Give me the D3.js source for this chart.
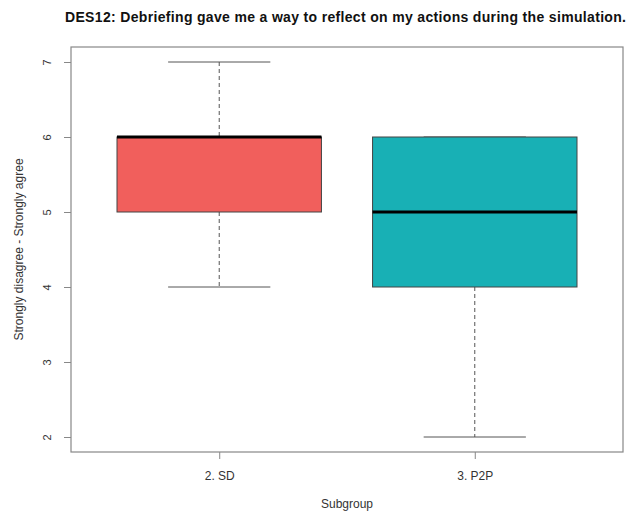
<!DOCTYPE html>
<html>
<head>
<meta charset="utf-8">
<script src="https://cdn.jsdelivr.net/npm/d3@7"></script>
<style>
  html, body { margin: 0; padding: 0; background: #fff; }
  svg { display: block; font-family: "Liberation Sans", Arial, sans-serif; }
</style>
</head>
<body>
<svg id="chart" width="628" height="513"></svg>
<script>
// Five-number summaries per subgroup
const groups = ["2. SD", "3. P2P"];
const lowerWhisker = [4, 2];
const q1 = [5, 4];
const median = [6, 5];
const q3 = [6, 6];
const upperWhisker = [7, 6];
const fills = ["#F15F5C", "#18B0B5"];
const yTicks = [2, 3, 4, 5, 6, 7];

const title = "DES12: Debriefing gave me a way to reflect on my actions during the simulation.";
const yTitle = "Strongly disagree - Strongly agree";
const xTitle = "Subgroup";

const svg = d3.select("#chart");
const plot = { left: 71, right: 623, top: 47, bottom: 452 };

// R-style 4% padding around the data range
const yMin = 2, yMax = 7, pad = (yMax - yMin) * 0.04;
const y = d3.scaleLinear().domain([yMin - pad, yMax + pad]).range([plot.bottom, plot.top]);
const x = d3.scaleLinear().domain([0.42, 2.58]).range([plot.left, plot.right]);
const unit = x(1) - x(0);
const boxW = 0.8 * unit;
const capW = boxW / 2;

const grey = "#555";

// Boxes, whiskers, medians
groups.forEach((g, i) => {
  const cx = x(i + 1);
  const gEl = svg.append("g");
  if (upperWhisker[i] > q3[i]) {
    gEl.append("line").attr("x1", cx).attr("x2", cx)
      .attr("y1", y(upperWhisker[i])).attr("y2", y(q3[i]))
      .attr("stroke", grey).attr("stroke-dasharray", "4,3").attr("stroke-width", 1);
  }
  if (lowerWhisker[i] < q1[i]) {
    gEl.append("line").attr("x1", cx).attr("x2", cx)
      .attr("y1", y(q1[i])).attr("y2", y(lowerWhisker[i]))
      .attr("stroke", grey).attr("stroke-dasharray", "4,3").attr("stroke-width", 1);
  }
  // staples
  [upperWhisker[i], lowerWhisker[i]].forEach(v => {
    gEl.append("line").attr("x1", cx - capW / 2).attr("x2", cx + capW / 2)
      .attr("y1", y(v)).attr("y2", y(v))
      .attr("stroke", grey).attr("stroke-width", 1);
  });
  // box
  gEl.append("rect")
    .attr("x", cx - boxW / 2).attr("width", boxW)
    .attr("y", y(q3[i])).attr("height", y(q1[i]) - y(q3[i]))
    .attr("fill", fills[i]).attr("stroke", "#444").attr("stroke-width", 1);
  // median
  gEl.append("line").attr("x1", cx - boxW / 2).attr("x2", cx + boxW / 2)
    .attr("y1", y(median[i])).attr("y2", y(median[i]))
    .attr("stroke", "#000").attr("stroke-width", 3);
});

// Frame
svg.append("rect")
  .attr("x", plot.left).attr("y", plot.top)
  .attr("width", plot.right - plot.left).attr("height", plot.bottom - plot.top)
  .attr("fill", "none").attr("stroke", "#888").attr("stroke-width", 1.2);

// Y axis
const yAxis = d3.axisLeft(y).tickValues(yTicks).tickSize(7).tickPadding(4).tickFormat(d3.format("d"));
const yg = svg.append("g").attr("transform", `translate(${plot.left},0)`).call(yAxis);
yg.select(".domain").remove();
yg.selectAll(".tick line").attr("stroke", "#888");
yg.selectAll(".tick text")
  .attr("font-size", 11).attr("fill", "#333")
  .attr("text-anchor", "middle").attr("x", 0).attr("dy", 0)
  .attr("transform", "translate(-23,0) rotate(-90)")
  .attr("dominant-baseline", "middle");

// X axis
const xAxis = d3.axisBottom(x).tickValues([1, 2]).tickSize(7).tickPadding(12)
  .tickFormat(d => groups[d - 1]);
const xg = svg.append("g").attr("transform", `translate(0,${plot.bottom})`).call(xAxis);
xg.select(".domain").remove();
xg.selectAll(".tick line").attr("stroke", "#888");
xg.selectAll(".tick text").attr("font-size", 12).attr("fill", "#333");

// Titles
svg.append("text").attr("x", 345.5).attr("y", 22)
  .attr("text-anchor", "middle").attr("font-weight", "bold").attr("font-size", 14)
  .attr("textLength", 561).attr("lengthAdjust", "spacing")
  .attr("fill", "#111").text(title);
svg.append("text").attr("x", (plot.left + plot.right) / 2).attr("y", 508)
  .attr("text-anchor", "middle").attr("font-size", 12).attr("fill", "#333").text(xTitle);
svg.append("text")
  .attr("transform", `translate(23,${(plot.top + plot.bottom) / 2}) rotate(-90)`)
  .attr("text-anchor", "middle").attr("font-size", 12).attr("fill", "#333").text(yTitle);
</script>
</body>
</html>
